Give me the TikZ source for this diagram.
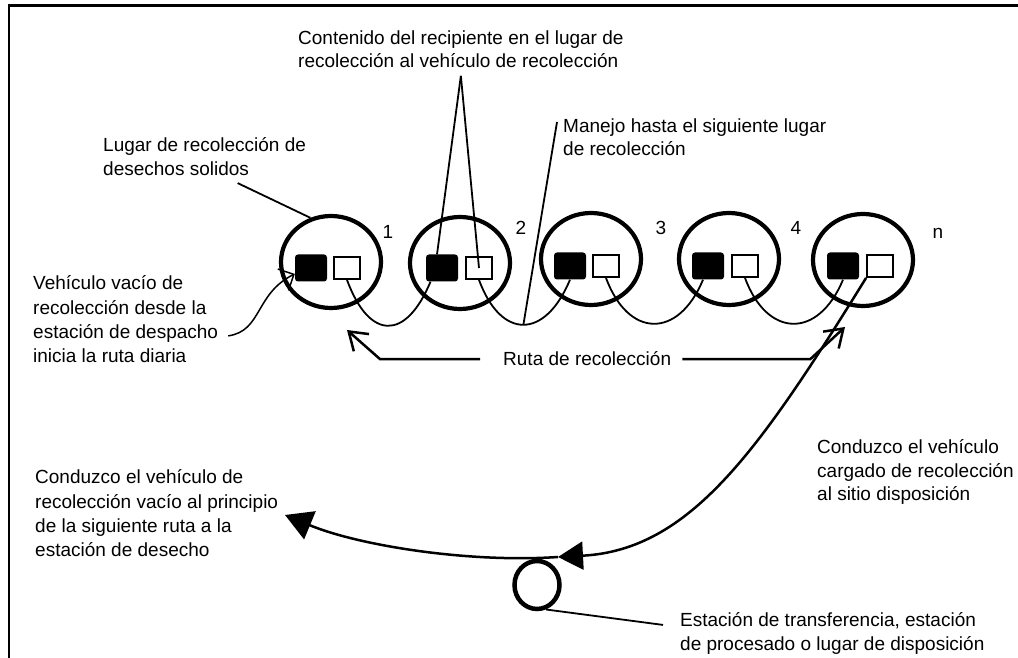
\documentclass[tikz,border=0pt]{standalone}
\usepackage{fontspec}
\setmainfont{Liberation Sans}
\usetikzlibrary{shapes.geometric,arrows.meta}

\begin{document}
\begin{tikzpicture}[x=1pt,y=1pt,
    font=\fontsize{19}{23.5}\selectfont,
    sitio/.style={draw,ellipse,line width=4.2pt,minimum width=100pt,minimum height=92pt,inner sep=0pt},
    lleno/.style={fill,rounded corners=3pt,minimum width=32pt,minimum height=27pt,inner sep=0pt},
    vacio/.style={draw,line width=1.8pt,minimum width=26pt,minimum height=22pt,inner sep=0pt},
    estacion/.style={draw,ellipse,line width=4.5pt,minimum width=45pt,minimum height=48pt,inner sep=0pt},
    texto/.style={align=left,inner sep=0pt,anchor=north west},
    ruta/.style={line width=1.8pt},
    flecha/.style={line width=2.5pt,-{Straight Barb[length=17pt,width=23pt]}},
    vuelta/.style={line width=2.5pt}]
    \useasboundingbox (0,0) rectangle (1018,658);

    % Marco
    \draw[line width=2pt] (9,0) -- (9,652);
    \draw[line width=3pt] (8,652) -- (1018,652);

    % Lugares de recolección
    \node[sitio] (S1) at (331,396) {};
    \node[sitio] (S2) at (460,395) {};
    \node[sitio] (S3) at (591,399) {};
    \node[sitio] (S4) at (729,399) {};
    \node[sitio] (Sn) at (863,398) {};

    % Recipientes
    \node[lleno] (L1) at (311,390) {};
    \node[vacio] (V1) at (347,390) {};
    \node[lleno] (L2) at (442,390) {};
    \node[vacio] (V2) at (479,390) {};
    \node[lleno] (L3) at (570,392) {};
    \node[vacio] (V3) at (606,392) {};
    \node[lleno] (L4) at (708,392) {};
    \node[vacio] (V4) at (745,392) {};
    \node[lleno] (Ln) at (843,392) {};
    \node[vacio] (Vn) at (880,392) {};

    % Numeración
    \node (N1) at (388,426) {1};
    \node (N2) at (521,430) {2};
    \node (N3) at (661,430) {3};
    \node (N4) at (796,430) {4};
    \node (Nn) at (938,425) {n};

    % Ruta entre lugares
    \draw[ruta] (V1.south) .. controls +(22,-60) and +(-25,-60) .. (L2.-130) coordinate[pos=.5] (T1);
    \draw[ruta] (V2.south) .. controls +(22,-60) and +(-25,-60) .. (L3.south) coordinate[pos=.5] (T2);
    \draw[ruta] (V3.south) .. controls +(22,-60) and +(-25,-60) .. (L4.-110) coordinate[pos=.5] (T3);
    \draw[ruta] (V4.south) .. controls +(22,-60) and +(-25,-60) .. (Ln.south) coordinate[pos=.5] (T4);

    % Textos
    \node[texto] (Tcont) at (298,627.5) {Contenido del recipiente en el lugar de\\recolección al vehículo de recolección};
    \node[texto] (Tman) at (563,539.5) {Manejo hasta el siguiente lugar\\de recolección};
    \node[texto] (Tlugar) at (103,520.5) {Lugar de recolección de\\desechos solidos};
    \node[texto,font=\fontsize{19}{24.4}\selectfont] (Tveh) at (33,382.5) {Vehículo vacío de\\recolección desde la\\estación de despacho\\inicia la ruta diaria};
    \node[inner sep=0pt,anchor=base west] (Truta) at (503,292) {Ruta de recolección};
    \node[texto] (Tcarg) at (817,218.5) {Conduzco el vehículo\\cargado de recolección\\al sitio disposición};
    \node[texto,font=\fontsize{19}{24.4}\selectfont] (Tvac) at (35,188.5) {Conduzco el vehículo de\\recolección vacío al principio\\de la siguiente ruta a la\\estación de desecho};
    \node[texto] (Test) at (680,45.5) {Estación de transferencia, estación\\de procesado o lugar de disposición};

    % Señalamientos
    \draw[ruta] ([shift={(33,-7.5)}]Tlugar.south) -- (S1.115);
    \draw[ruta] ([yshift=-7.5]Tcont.south) -- (L2.110);
    \draw[ruta] ([yshift=-7.5]Tcont.south) -- (V2.center);
    \draw[ruta] ([shift={(-6,-3.5)}]Tman.north west) -- (T2);
    \draw[line width=1.5pt,-{Straight Barb[length=12pt,width=24pt]}] ([shift={(10,-16.5)}]Tveh.east) .. controls +(34,5) and +(-40,-20) .. (L1.200);

    % Flechas de la ruta
    \coordinate (Rizq) at (347,328);
    \coordinate (Rder) at (845,331);
    \draw[flecha] ([xshift=-23]Truta.west) -- ++(-100,0) -- (Rizq);
    \draw[flecha] ([xshift=11]Truta.east) -- ++(128,0) -- (Rder);

    % Estación de transferencia
    \node[estacion] (E) at (537,73) {};
    \draw[ruta] (E.-70) -- ([shift={(-17,8.5)}]Test.west);

    % Viaje al sitio y regreso
    \coordinate (Llegada) at (558,101);
    \coordinate (Vuelta) at (285,143);
    \draw[vuelta,-{Triangle[length=25pt,width=28pt]}] (Vn.south west) .. controls +(-107,-173) and +(132,7) .. (Llegada);
    \draw[vuelta,-{Triangle[length=27pt,width=30pt]}] (Llegada) .. controls +(-88,-6) and +(75,-31) .. (Vuelta);
\end{tikzpicture}
\end{document}
